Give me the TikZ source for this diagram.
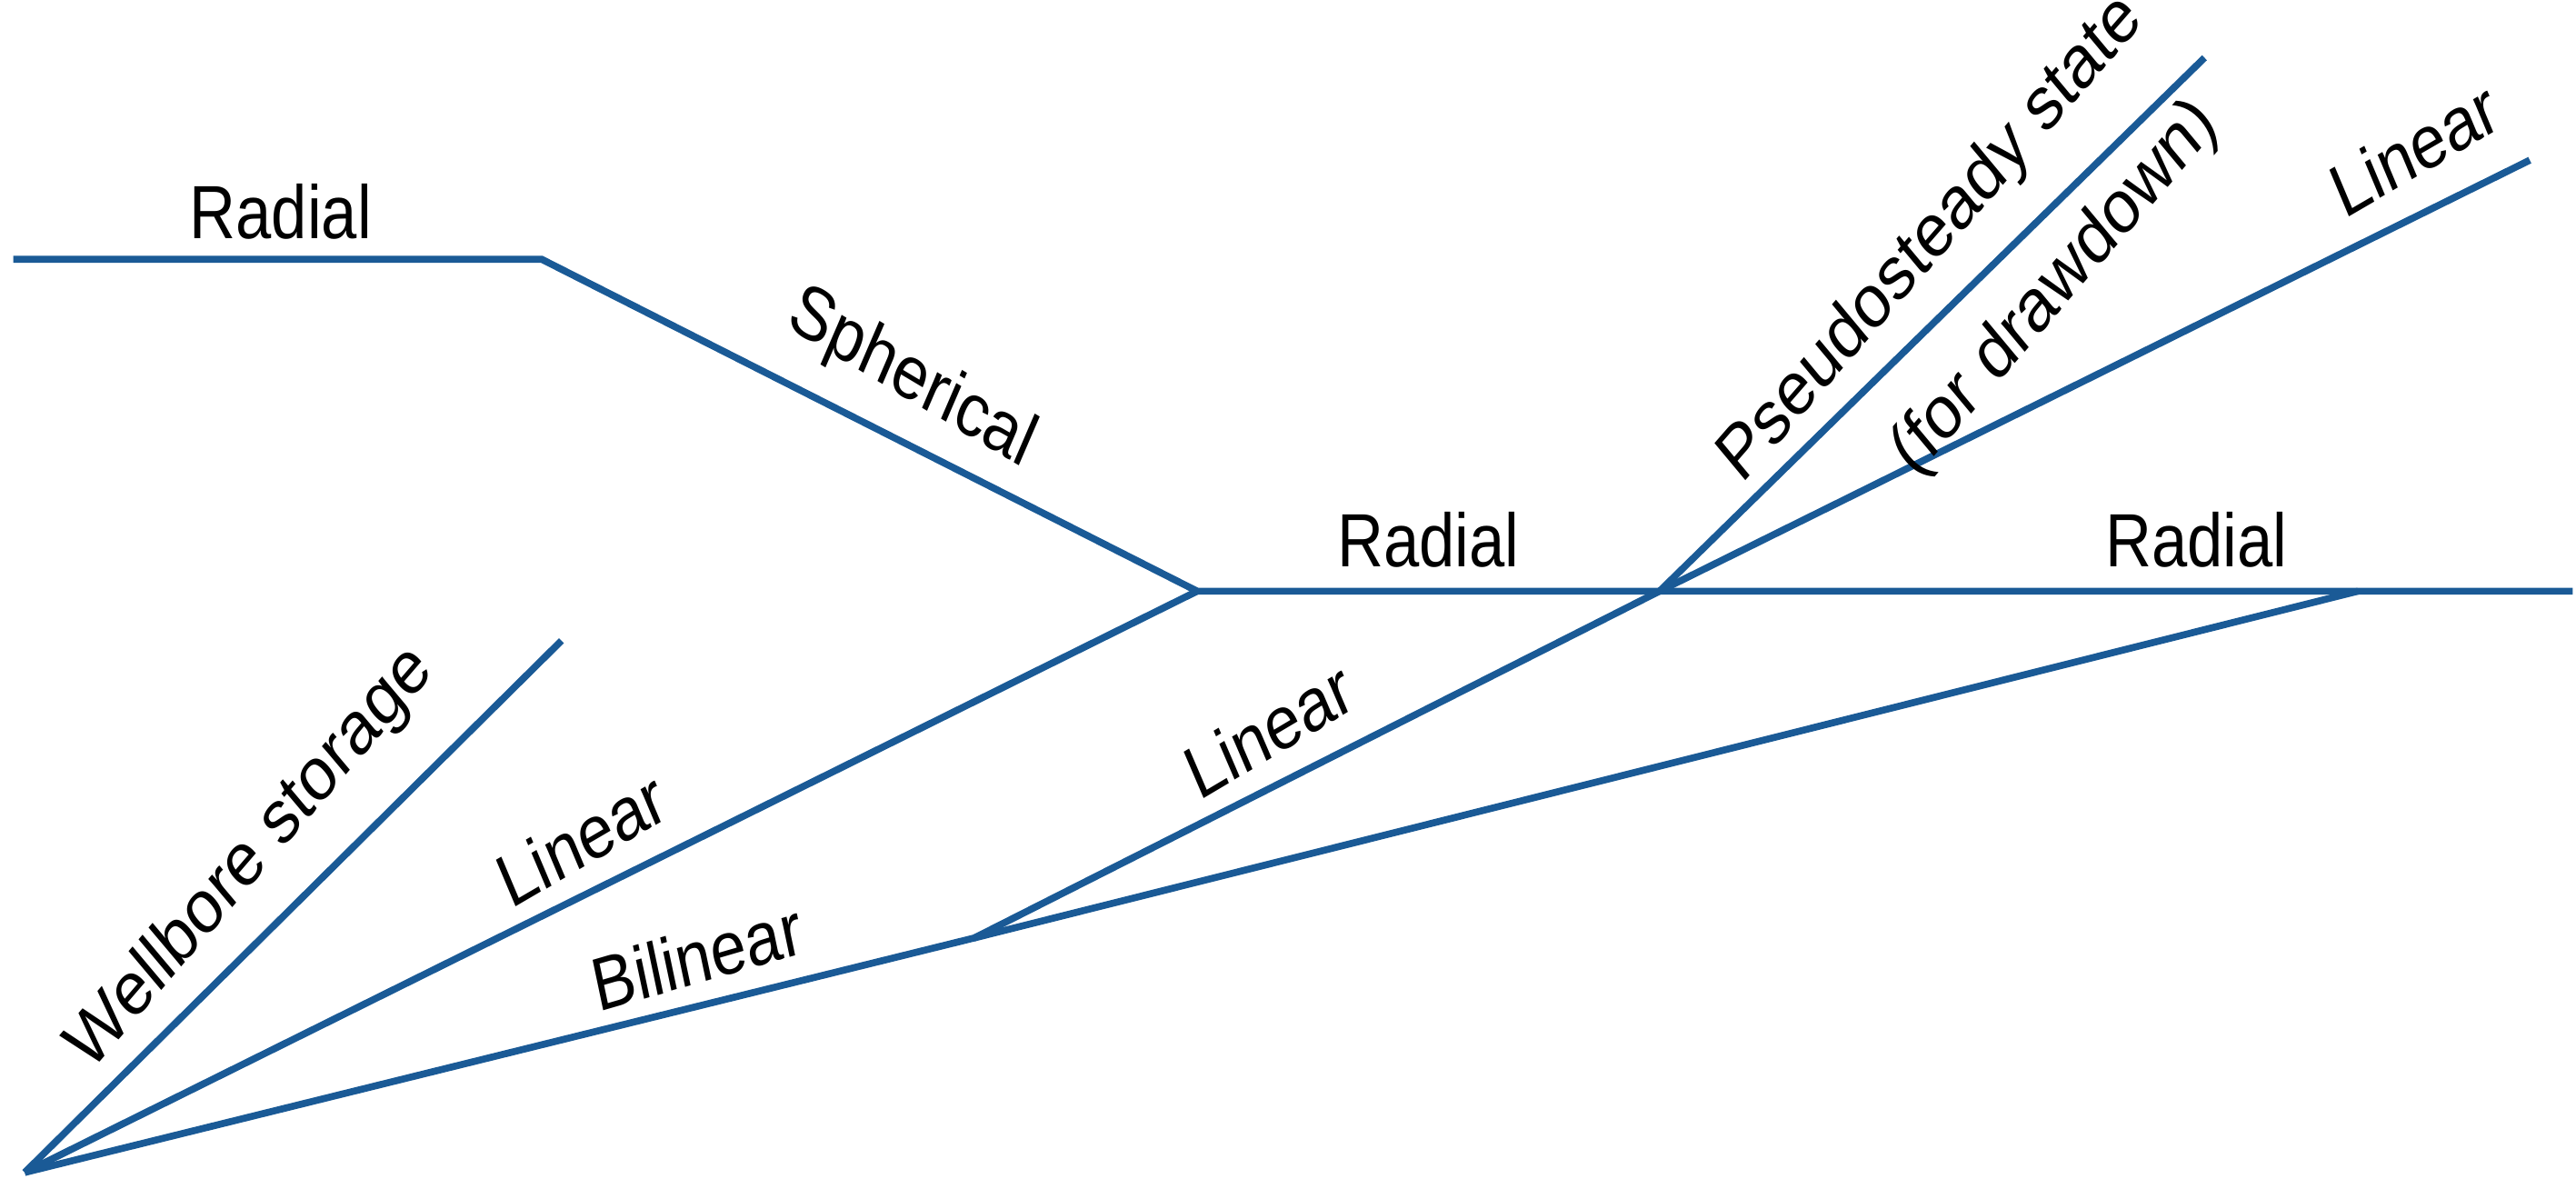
\documentclass[tikz,border=0pt]{standalone}
\usepackage{fontspec}
\setmainfont{Liberation Sans}
\definecolor{ln}{HTML}{1A5A96}
\begin{document}
\begin{tikzpicture}[x=1cm,y=1cm,
  seg/.style={draw=ln,line width=1.2pt,line join=miter},
  lab/.style={font=\fontsize{13}{15}\selectfont,xscale=0.85,inner sep=0pt,text=black}]
\useasboundingbox (0,0) rectangle (15.6,7.2);
\coordinate (O) at (0.15,0.10);
\coordinate (W) at (3.40,3.32);
\coordinate (A) at (7.25,3.62);
\coordinate (B) at (5.90,1.52);
\coordinate (C) at (10.05,3.62);
\coordinate (D) at (14.28,3.62);
\coordinate (E) at (15.58,3.62);
\coordinate (R0) at (0.08,5.63);
\coordinate (R1) at (3.28,5.63);
\coordinate (P) at (13.35,6.85);
\coordinate (L) at (15.32,6.23);
\draw[seg] (R0) -- (R1) -- (A) -- (E);
\draw[seg] (O) -- (W);
\draw[seg] (O) -- (A);
\draw[seg] (O) -- (B) -- (C) -- (P);
\draw[seg] (B) -- (D);
\draw[seg] (C) -- (L);
\node[lab] (t1) at (1.70,5.92) {Radial};
\node[lab,rotate=-26.9] (t2) at (5.52,4.90) {Spherical};
\node[lab] (t3) at (8.65,3.93) {Radial};
\node[lab] (t4) at (13.30,3.93) {Radial};
\node[lab,rotate=44.7] (t5) at (1.52,2.00) {Wellbore storage};
\node[lab,rotate=26.4] (t6) at (3.52,2.12) {Linear};
\node[lab,rotate=13.9] (t7) at (4.22,1.41) {Bilinear};
\node[lab,rotate=26.8] (t8) at (7.68,2.78) {Linear};
\node[lab,rotate=44.4] (t9) at (11.70,5.75) {Pseudosteady state};
\node[lab,rotate=44.4] (t10) at (12.45,5.45) {(for drawdown)};
\node[lab,rotate=26.3] (t11) at (14.62,6.30) {Linear};
\end{tikzpicture}
\end{document}
